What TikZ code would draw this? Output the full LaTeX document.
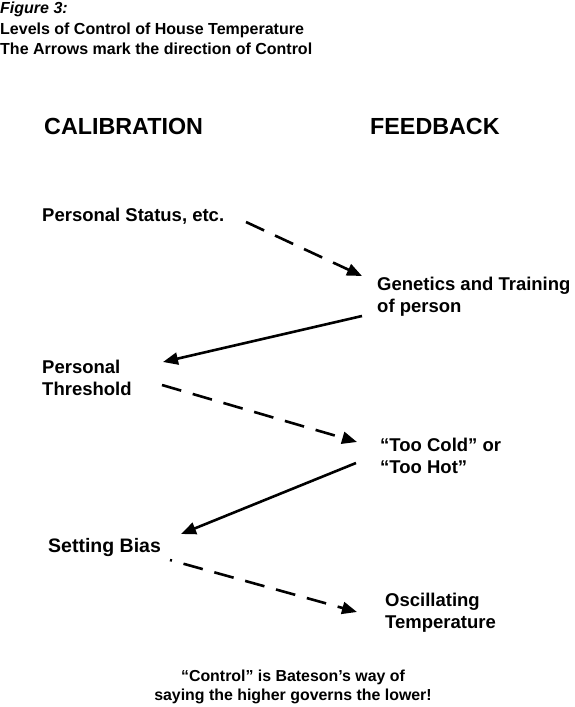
\documentclass[tikz,border=0pt]{standalone}
\usepackage{fontspec}
\setmainfont{Liberation Sans}
\usetikzlibrary{arrows.meta}
\begin{document}
\begin{tikzpicture}[x=1pt,y=-1pt,
  lbl/.style={font=\bfseries\fontsize{18.5}{22}\selectfont, anchor=west, inner sep=0pt, align=left},
  head/.style={font=\bfseries\fontsize{23.3}{28}\selectfont, anchor=west, inner sep=0pt},
  ttl/.style={font=\bfseries\fontsize{16}{18}\selectfont, anchor=west, inner sep=0pt},
  ctl/.style={line width=2.6pt, -{Triangle[length=15pt,width=12pt]}},
  ctldash/.style={ctl, dash pattern=on 20pt off 12pt}]
\useasboundingbox (0,0) rectangle (574,707);
\node[ttl] (fig) at (0,9) {\itshape Figure 3:};
\node[ttl] (t1) at (0,30) {Levels of Control of House Temperature};
\node[ttl] (t2) at (0,49) {The Arrows mark the direction of Control};
\node[head] (cal) at (44,126) {CALIBRATION};
\node[head] (fb) at (370,126) {FEEDBACK};
\node[lbl] (ps) at (42,216) {Personal Status, etc.};
\node[lbl] (gen) at (377,297) {Genetics and Training\\of person};
\node[lbl] (pt) at (42,378) {Personal\\Threshold};
\node[lbl] (tc) at (380,456) {“Too Cold” or\\“Too Hot”};
\node[lbl, font=\bfseries\fontsize{19.5}{22}\selectfont] (sb) at (48,547) {Setting Bias};
\node[lbl] (osc) at (385,613) {Oscillating\\Temperature};
\node[font=\bfseries\fontsize{15.9}{19}\selectfont, align=center, inner sep=0pt] (note) at (293,687) {“Control” is Bateson’s way of\\saying the higher governs the lower!};
\coordinate (a1s) at (246,222); \coordinate (a1e) at (362,276);
\coordinate (a2s) at (362,316); \coordinate (a2e) at (163,362);
\coordinate (a3s) at (162,385); \coordinate (a3e) at (357,442);
\coordinate (a4s) at (356,463); \coordinate (a4e) at (181,534);
\coordinate (a5s) at (170,560); \coordinate (a5e) at (357,612);
\draw[ctldash] (a1s) -- (a1e);
\draw[ctl] (a2s) -- (a2e);
\draw[ctldash] (a3s) -- (a3e);
\draw[ctl] (a4s) -- (a4e);
\draw[ctldash, dash phase=18pt] (a5s) -- (a5e);
\end{tikzpicture}
\end{document}
